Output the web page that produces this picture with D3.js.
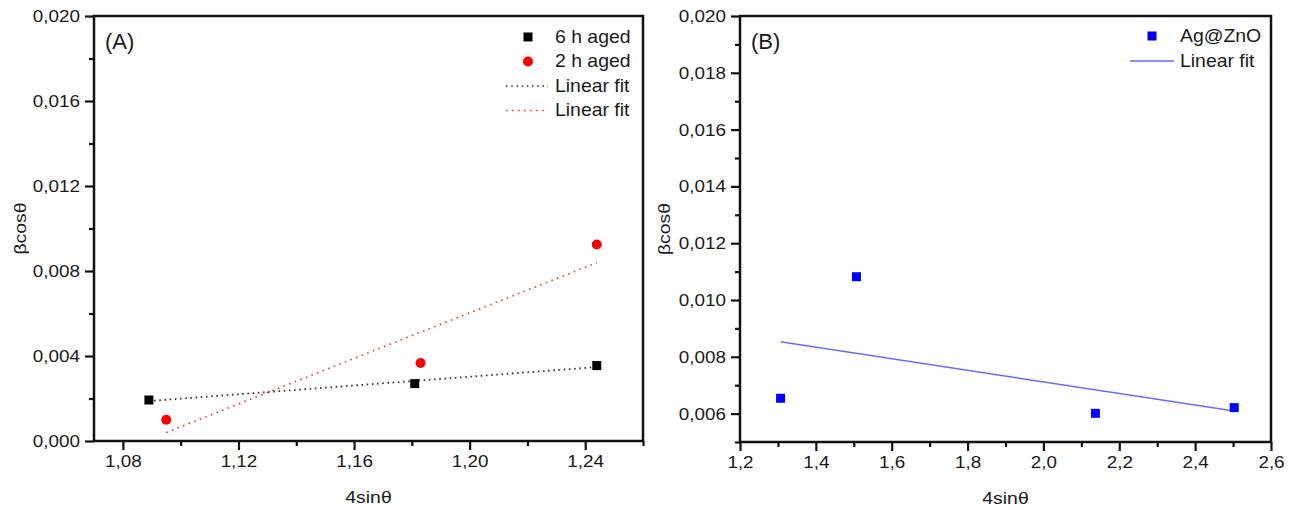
<!DOCTYPE html>
<html>
<head>
<meta charset="utf-8">
<script src="https://cdn.jsdelivr.net/npm/d3@7"></script>
<style>
  body { margin: 0; background: #fff; }
  svg { display: block; }
  text { font-family: Arial, "Liberation Sans", sans-serif; fill: #1a1a1a; }
</style>
</head>
<body>
<svg id="chart" width="1296" height="510"></svg>
<script>
// ---- Panel A: Williamson–Hall points for the aged samples ----
const sixHourX = [1.089, 1.181, 1.244];
const sixHourY = [0.00193, 0.00270, 0.00355];
const twoHourX = [1.095, 1.183, 1.244];
const twoHourY = [0.00100, 0.00367, 0.00925];
// fitted line end points
const sixHourFitX = [1.089, 1.244];
const sixHourFitY = [0.00188, 0.00348];
const twoHourFitX = [1.095, 1.244];
const twoHourFitY = [0.00040, 0.00839];

// ---- Panel B: Ag@ZnO ----
const agZnoX = [1.307, 1.507, 2.137, 2.503];
const agZnoY = [0.00654, 0.01082, 0.00601, 0.00621];
const agZnoFitX = [1.307, 2.503];
const agZnoFitY = [0.00853, 0.00609];

// ---- axis ticks ----
const aXMajor = [1.08, 1.12, 1.16, 1.20, 1.24];
const aXMinor = [1.10, 1.14, 1.18, 1.22, 1.26];
const aYMajor = [0.000, 0.004, 0.008, 0.012, 0.016, 0.020];
const aYMinor = [0.002, 0.006, 0.010, 0.014, 0.018];
const bXMajor = [1.2, 1.4, 1.6, 1.8, 2.0, 2.2, 2.4, 2.6];
const bXMinor = [1.3, 1.5, 1.7, 1.9, 2.1, 2.3, 2.5];
const bYMajor = [0.006, 0.008, 0.010, 0.012, 0.014, 0.016, 0.018, 0.020];
const bYMinor = [0.005, 0.007, 0.009, 0.011, 0.013, 0.015, 0.017, 0.019];

const xTitle = "4sin\u03b8";
const yTitle = "\u03b2cos\u03b8";

const locale = d3.formatLocale({ decimal: ",", thousands: ".", grouping: [3], currency: ["", ""] });
const fmt3 = locale.format(".3f");
const fmt2 = locale.format(".2f");
const fmt1 = locale.format(".1f");

// the typeface in this figure runs slightly wide
const SX = 1.11;

const svg = d3.select("#chart");
const zip = (xs, ys) => xs.map((x, i) => ({ x, y: ys[i] }));

// widen a text element horizontally while keeping its anchor point
function widen(sel, sx) {
  sel.each(function () {
    const t = d3.select(this);
    const x = +t.attr("x") || 0;
    t.attr("x", x / sx).attr("transform", `scale(${sx},1)`);
  });
}

function panel(cfg) {
  const x = d3.scaleLinear().domain(cfg.xDomain).range(cfg.xRange);
  const y = d3.scaleLinear().domain(cfg.yDomain).range(cfg.yRange);
  const g = svg.append("g");
  const [x0, x1] = cfg.xRange;
  const [y0, y1] = cfg.yRange; // y0 bottom, y1 top

  // minor ticks
  g.append("g").attr("transform", `translate(0,${y0})`)
    .call(d3.axisBottom(x).tickValues(cfg.xMinor).tickSize(5).tickFormat(""))
    .call(a => a.select(".domain").remove());
  g.append("g").attr("transform", `translate(${x0},0)`)
    .call(d3.axisLeft(y).tickValues(cfg.yMinor).tickSize(5).tickFormat(""))
    .call(a => a.select(".domain").remove());
  // major ticks with labels
  g.append("g").attr("class", "xaxis").attr("transform", `translate(0,${y0})`)
    .call(d3.axisBottom(x).tickValues(cfg.xMajor).tickSize(9).tickPadding(5).tickFormat(cfg.xFmt))
    .call(a => a.select(".domain").remove());
  g.append("g").attr("class", "yaxis").attr("transform", `translate(${x0},0)`)
    .call(d3.axisLeft(y).tickValues(cfg.yMajor).tickSize(9).tickPadding(5).tickFormat(fmt3))
    .call(a => a.select(".domain").remove());
  g.selectAll(".tick line").attr("stroke", "#111").attr("stroke-width", 2.2);
  g.selectAll(".tick text").style("font-size", "17px").attr("fill", "#1a1a1a").call(widen, SX);

  // frame
  g.append("rect").attr("x", x0).attr("y", y1).attr("width", x1 - x0).attr("height", y0 - y1)
    .attr("fill", "none").attr("stroke", "#111").attr("stroke-width", 2.5);

  // axis titles
  g.append("text").attr("transform", `translate(${(x0 + x1) / 2},${y0 + 62}) scale(${SX * 1.03},1)`)
    .attr("text-anchor", "middle").style("font-size", "17px").text(xTitle);
  g.append("text").attr("transform", `translate(${cfg.yTitleX},${(y0 + y1) / 2}) rotate(-90) scale(${SX * 1.03},1)`)
    .attr("text-anchor", "middle").style("font-size", "17px").text(yTitle);

  // panel tag
  g.append("text").attr("x", x0 + 11).attr("y", y1 + 33).style("font-size", "22px").text(cfg.tag);

  return { g, x, y };
}

// ---------- Panel A ----------
const A = panel({
  xDomain: [1.07, 1.26], xRange: [94, 643],
  yDomain: [0, 0.02], yRange: [441, 16],
  xMajor: aXMajor, xMinor: aXMinor, yMajor: aYMajor, yMinor: aYMinor,
  xFmt: fmt2, yTitleX: 26, tag: "(A)"
});

const line = (p) => d3.line().x(d => p.x(d.x)).y(d => p.y(d.y));

A.g.append("path").datum(zip(sixHourFitX, sixHourFitY)).attr("d", line(A))
  .attr("fill", "none").attr("stroke", "#333").attr("stroke-width", 1.8).attr("stroke-dasharray", "1.6,3.6");
A.g.append("path").datum(zip(twoHourFitX, twoHourFitY)).attr("d", line(A))
  .attr("fill", "none").attr("stroke", "#ff3030").attr("stroke-width", 1.6).attr("stroke-dasharray", "1.6,4.4");

A.g.selectAll(".sq").data(zip(sixHourX, sixHourY)).join("rect")
  .attr("x", d => A.x(d.x) - 4.5).attr("y", d => A.y(d.y) - 4.5)
  .attr("width", 9).attr("height", 9).attr("fill", "#000");
A.g.selectAll(".ci").data(zip(twoHourX, twoHourY)).join("circle")
  .attr("cx", d => A.x(d.x)).attr("cy", d => A.y(d.y)).attr("r", 5).attr("fill", "#ff0000");

// legend A
const legA = A.g.append("g");
const legRowsA = [
  { label: "6 h aged", kind: "square", color: "#000" },
  { label: "2 h aged", kind: "circle", color: "#ff0000" },
  { label: "Linear fit", kind: "line", color: "#333", dash: "1.6,3.6" },
  { label: "Linear fit", kind: "line", color: "#ff3030", dash: "1.6,4.4" }
];
legRowsA.forEach((r, i) => {
  const cy = 37 + i * 24.5;
  if (r.kind === "square") legA.append("rect").attr("x", 523.5).attr("y", cy - 4.5).attr("width", 9).attr("height", 9).attr("fill", r.color);
  if (r.kind === "circle") legA.append("circle").attr("cx", 528).attr("cy", cy).attr("r", 5).attr("fill", r.color);
  if (r.kind === "line") legA.append("line").attr("x1", 506).attr("x2", 548).attr("y1", cy).attr("y2", cy)
    .attr("stroke", r.color).attr("stroke-width", 1.6).attr("stroke-dasharray", r.dash);
  legA.append("text").attr("x", 555).attr("y", cy + 6).style("font-size", "17.5px").text(r.label).call(widen, SX);
});

// ---------- Panel B ----------
const B = panel({
  xDomain: [1.2, 2.6], xRange: [740, 1271],
  yDomain: [0.005, 0.02], yRange: [442, 16],
  xMajor: bXMajor, xMinor: bXMinor, yMajor: bYMajor, yMinor: bYMinor,
  xFmt: fmt1, yTitleX: 670, tag: "(B)"
});

B.g.append("path").datum(zip(agZnoFitX, agZnoFitY)).attr("d", line(B))
  .attr("fill", "none").attr("stroke", "#6a6aff").attr("stroke-width", 1.4);
B.g.selectAll(".sq").data(zip(agZnoX, agZnoY)).join("rect")
  .attr("x", d => B.x(d.x) - 4.5).attr("y", d => B.y(d.y) - 4.5)
  .attr("width", 9).attr("height", 9).attr("fill", "#0000ff");

const legB = B.g.append("g");
legB.append("rect").attr("x", 1147.5).attr("y", 36 - 4.5).attr("width", 9).attr("height", 9).attr("fill", "#0000ff");
legB.append("text").attr("x", 1180).attr("y", 42).style("font-size", "17.5px").text("Ag@ZnO").call(widen, SX);
legB.append("line").attr("x1", 1130).attr("x2", 1174).attr("y1", 61).attr("y2", 61)
  .attr("stroke", "#6a6aff").attr("stroke-width", 1.4);
legB.append("text").attr("x", 1180).attr("y", 67).style("font-size", "17.5px").text("Linear fit").call(widen, SX);
</script>
</body>
</html>
